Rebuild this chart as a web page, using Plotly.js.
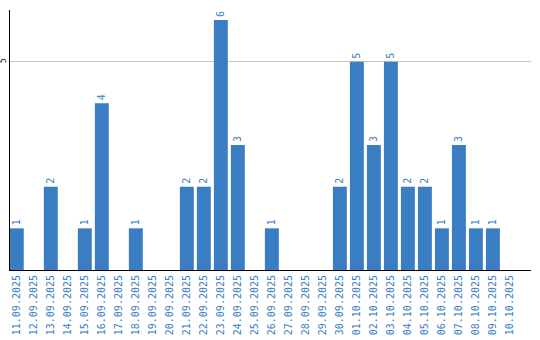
<!DOCTYPE html>
<html>
<head>
<meta charset="utf-8">
<script src="https://cdn.plot.ly/plotly-3.0.1.min.js"></script>
<style>html,body{margin:0;padding:0;background:#fff;}#chart{width:540px;height:340px;}</style>
</head>
<body>
<div id="chart"></div>
<script>
const dates = ["11.09.2025","12.09.2025","13.09.2025","14.09.2025","15.09.2025","16.09.2025","17.09.2025","18.09.2025","19.09.2025","20.09.2025","21.09.2025","22.09.2025","23.09.2025","24.09.2025","25.09.2025","26.09.2025","27.09.2025","28.09.2025","29.09.2025","30.09.2025","01.10.2025","02.10.2025","03.10.2025","04.10.2025","05.10.2025","06.10.2025","07.10.2025","08.10.2025","09.10.2025","10.10.2025"];
const counts = [1,0,2,0,1,4,0,1,0,0,2,2,6,3,0,1,0,0,0,2,5,3,5,2,2,1,3,1,1,0];
const labels = counts.map(v => v > 0 ? String(v) : "");

const blue = "#3b7dc2";
const trace = {
  type: "bar",
  x: dates,
  y: counts,
  text: labels,
  textposition: "outside",
  textangle: -90,
  cliponaxis: false,
  constraintext: "none",
  textfont: {family: "DejaVu Sans Mono", size: 10, color: blue},
  marker: {color: blue},
  width: 0.82,
  hoverinfo: "none"
};
const layout = {
  width: 540, height: 340,
  margin: {l: 10, r: 9, t: 10, b: 70},
  paper_bgcolor: "#fff", plot_bgcolor: "#fff",
  showlegend: false,
  xaxis: {
    type: "category",
    range: [-0.4, 30.24],
    tickangle: -90,
    tickfont: {family: "DejaVu Sans Mono", size: 10, color: blue},
    showline: true, linecolor: "#000", linewidth: 1,
    showgrid: false, ticks: "", zeroline: false
  },
  yaxis: {
    range: [0, 6.24],
    tickvals: [5],
    ticktext: ["5"],
    tickangle: -90,
    tickfont: {family: "DejaVu Sans Mono", size: 8, color: "#000"},
    showline: true, linecolor: "#000", linewidth: 1,
    showgrid: true, gridcolor: "#c8c8c8", gridwidth: 1,
    zeroline: false, ticks: ""
  },
  font: {family: "DejaVu Sans Mono"}
};
Plotly.newPlot("chart", [trace], layout, {displayModeBar: false, staticPlot: true});
</script>
</body>
</html>
